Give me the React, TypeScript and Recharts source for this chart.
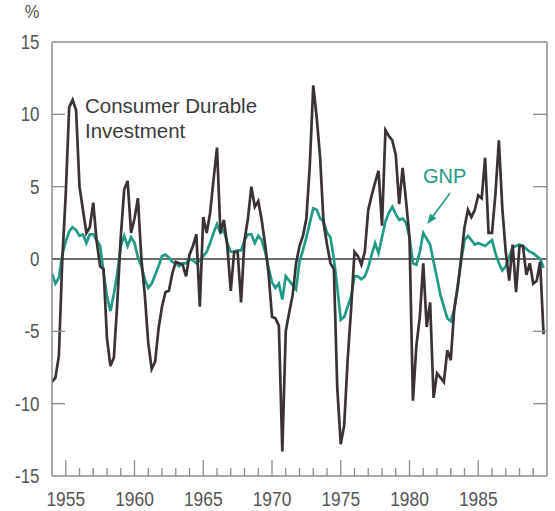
import React from 'react';
import { LineChart, Line, XAxis, YAxis, ReferenceLine, Customized } from 'recharts';

// Quarterly series starting 1954 Q1
const START_YEAR = 1954;

// Consumer durable investment (%), one row per year (4 quarters)
const cdiValues = [
  -8.5, -8.2, -6.7, 0.0,
  4.5, 10.5, 11.0, 10.3,
  5.0, 3.4, 1.8, 2.2,
  3.9, 1.2, -0.5, -0.7,
  -5.5, -7.4, -6.8, -3.0,
  1.5, 4.8, 5.4, 1.8,
  2.8, 4.2, 0.0, -2.5,
  -5.8, -7.6, -7.1, -4.8,
  -3.3, -2.3, -2.2, -1.0,
  -0.2, -0.3, -0.4, -1.2,
  0.3, 0.9, 1.7, -3.3,
  2.9, 1.8, 3.2, 5.5,
  7.7, 1.8, 2.7, 0.9,
  -2.2, 0.5, 0.5, -3.0,
  1.3, 2.8, 5.0, 3.6,
  4.0, 2.7, 1.0, -1.0,
  -4.0, -4.1, -4.6, -13.3,
  -5.0, -3.7, -2.5, -0.3,
  0.9, 1.6, 2.8, 6.5,
  12.0, 9.8, 7.0, 2.5,
  1.0, -0.3, -0.7, -9.0,
  -12.8, -11.5, -7.0, -3.5,
  0.5, 0.2, -0.4, 0.5,
  3.4, 4.4, 5.3, 6.1,
  2.3, 8.9, 8.5, 8.2,
  7.2, 3.8, 6.3, 4.0,
  1.5, -9.8, -6.0, -4.0,
  -0.3, -4.7, -3.0, -9.6,
  -7.9, -8.2, -8.5, -6.3,
  -7.0, -3.5, -2.0, 0.0,
  2.2, 3.4, 2.9, 3.4,
  4.4, 4.2, 7.0, 1.8,
  1.8, 4.5, 8.2, 3.5,
  0.5, -1.5, 1.0, -2.3,
  0.9, 0.9, -1.1, -0.3,
  -1.7, -1.5, -0.2, -5.2,
];

// GNP (%), one row per year (4 quarters)
const gnpValues = [
  -1.0, -1.7, -1.3, 0.3,
  1.2, 1.9, 2.2, 2.0,
  1.6, 1.7, 1.1, 1.7,
  1.7, 1.3, 0.9, -0.9,
  -2.6, -3.6, -2.4, -1.0,
  0.9, 1.6, 0.9, 1.5,
  1.1, 0.1, -0.5, -1.4,
  -2.0, -1.7, -1.1, -0.5,
  0.2, 0.3, 0.1, -0.2,
  -0.3, -0.5, -0.3, -0.3,
  0.0, -0.1, -0.3, -0.1,
  0.2, 0.5, 1.1, 1.8,
  2.4, 1.8, 2.0, 1.1,
  0.5, 0.5, 0.6, 0.6,
  1.3, 1.7, 1.7, 1.1,
  1.6, 1.3, 0.5, -0.6,
  -1.6, -2.0, -1.7, -2.8,
  -1.2, -1.5, -1.8, -2.1,
  -0.2, 0.6, 1.5, 2.5,
  3.5, 3.4, 2.8, 2.6,
  1.8, 1.5, 0.0, -2.0,
  -4.2, -4.0, -3.3, -2.6,
  -1.2, -1.2, -1.4, -1.2,
  -0.6, 0.3, 1.1, 0.4,
  1.5, 2.6, 3.2, 3.6,
  3.1, 2.7, 2.8, 2.5,
  1.5, -0.3, -0.4, 0.5,
  1.8, 1.4, 1.0, -0.2,
  -1.3, -2.5, -3.3, -4.1,
  -4.3, -3.5, -1.9, -0.2,
  1.3, 1.6, 1.3, 1.0,
  1.1, 1.0, 0.9, 1.1,
  1.3, 0.4, -0.3, -0.8,
  -0.5, 0.1, 0.8, 0.9,
  1.0, 0.9, 0.7, 0.5,
  0.4, 0.2, 0.0, -0.6,
];

const yearTicks = [
  1955, 1956, 1957, 1958, 1959, 1960, 1961, 1962, 1963, 1964,
  1965, 1966, 1967, 1968, 1969, 1970, 1971, 1972, 1973, 1974,
  1975, 1976, 1977, 1978, 1979, 1980, 1981, 1982, 1983, 1984,
  1985, 1986, 1987, 1988, 1989,
];
const labeledYears = [1955, 1960, 1965, 1970, 1975, 1980, 1985];
const yTicks = [-15, -10, -5, 0, 5, 10, 15];

const data = cdiValues.map((v, i) => ({
  t: START_YEAR + i / 4,
  cdi: v,
  gnp: gnpValues[i],
}));

const FRAME = '#8d8d8d';
const LABEL = '#555555';
const DARK = '#3a3234';
const TEAL = '#239a88';
const FONT = "'Liberation Sans', Arial, Helvetica, sans-serif";

const XTick = (props: any) => {
  const { x, y, payload } = props;
  const major = labeledYears.includes(payload.value);
  return (
    <g>
      <line x1={x} x2={x} y1={y} y2={y - (major ? 16 : 8)} stroke={FRAME} strokeWidth={1.3} />
      {major && (
        <text
          transform={`translate(${x},${y + 29.5}) scale(0.87,1)`}
          textAnchor="middle"
          fontSize={20}
          fontFamily={FONT}
          fill={LABEL}
        >
          {payload.value}
        </text>
      )}
    </g>
  );
};

const LeftTick = (props: any) => {
  const { x, y, payload } = props;
  const v = payload.value;
  const inner = v !== 15 && v !== -15 && v !== 0;
  return (
    <g>
      {inner && <line x1={x} x2={x + 13} y1={y} y2={y} stroke={FRAME} strokeWidth={1.3} />}
      <text
        transform={`translate(${x - 12.5},${y + 7}) scale(0.87,1)`}
        textAnchor="end"
        fontSize={19.5}
        fontFamily={FONT}
        fill={LABEL}
      >
        {v}
      </text>
      {v === 15 && (
        <text
          transform={`translate(${x - 12.5},${17.5}) scale(0.87,1)`}
          textAnchor="end"
          fontSize={19}
          fontFamily={FONT}
          fill={LABEL}
        >
          %
        </text>
      )}
    </g>
  );
};

const RightTick = (props: any) => {
  const { x, y, payload } = props;
  const v = payload.value;
  const inner = v !== 15 && v !== -15 && v !== 0;
  if (!inner) return <g />;
  return <line x1={x} x2={x - 14} y1={y} y2={y} stroke={FRAME} strokeWidth={1.3} />;
};

const Annotations = () => (
  <g fontFamily={FONT}>
    <text x={85} y={113} fontSize={20.5} fill="#3b3b3b">Consumer Durable</text>
    <text x={85} y={138} fontSize={20.5} fill="#3b3b3b">Investment</text>
    <text x={423} y={183} fontSize={20} fill={TEAL}>GNP</text>
    <line x1={450} y1={193} x2={432} y2={217.5} stroke={TEAL} strokeWidth={1.6} />
    <polygon points="427.3,224 436.4,218.2 430,213.6" fill={TEAL} />
  </g>
);

export default function App() {
  return (
    <div style={{ position: 'absolute', left: 0, top: 0 }}>
      <LineChart
        width={555}
        height={511}
        data={data}
        margin={{ top: 42, right: 0, bottom: 0, left: 0 }}
      >
        <XAxis
          dataKey="t"
          type="number"
          domain={[1954, 1990]}
          ticks={yearTicks}
          interval={0}
          tick={<XTick />}
          tickLine={false}
          tickSize={0}
          tickMargin={0}
          height={35}
          axisLine={{ stroke: FRAME, strokeWidth: 1.5 }}
          allowDataOverflow
        />
        <YAxis
          yAxisId="left"
          domain={[-15, 15]}
          ticks={yTicks}
          interval={0}
          tick={<LeftTick />}
          tickLine={false}
          tickSize={0}
          tickMargin={0}
          width={52}
          axisLine={{ stroke: FRAME, strokeWidth: 1.5 }}
          allowDataOverflow
        />
        <YAxis
          yAxisId="right"
          orientation="right"
          domain={[-15, 15]}
          ticks={yTicks}
          interval={0}
          tick={<RightTick />}
          tickLine={false}
          tickSize={0}
          tickMargin={0}
          width={8}
          axisLine={{ stroke: FRAME, strokeWidth: 1.5 }}
          allowDataOverflow
        />
        <ReferenceLine yAxisId="left" y={15} stroke={FRAME} strokeWidth={1.5} />
        <ReferenceLine yAxisId="left" y={0} stroke="#3d3d3d" strokeWidth={1.3} />
        <Line
          yAxisId="left"
          type="linear"
          dataKey="gnp"
          stroke={TEAL}
          strokeWidth={2.7}
          dot={false}
          isAnimationActive={false}
        />
        <Line
          yAxisId="left"
          type="linear"
          dataKey="cdi"
          stroke={DARK}
          strokeWidth={2.7}
          dot={false}
          isAnimationActive={false}
        />
        <Customized component={Annotations} />
      </LineChart>
    </div>
  );
}
